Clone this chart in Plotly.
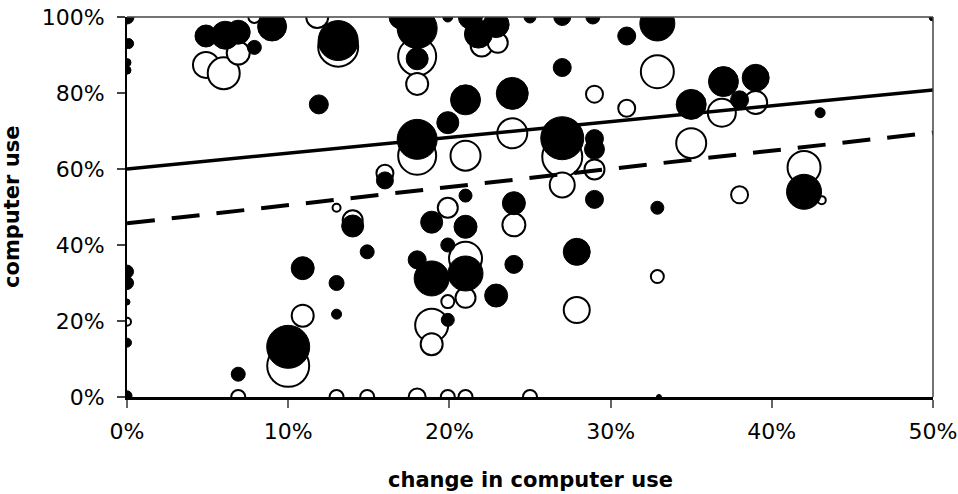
import plotly.graph_objects as go

# ---- data (percent units) ----
black_x = [0, 0.1, 0, 0, 4.9, 6.1, 6.9, 7.9, 9.0, 11.9, 13.1, 17.0, 18, 19.9, 18, 18, 21, 19.9, 23.9, 16,
           21, 24, 21.3, 21.8, 22.9, 25, 27, 28.9, 32.9, 31, 27, 35, 37, 27, 29, 29, 29, 32.9, 39, 38,
           43, 42, 50, 0, 0, 0, 0, 0, 10.9, 10, 6.9, 14, 14.9, 13, 13, 18.9, 21, 24, 19.9, 18,
           18.9, 21, 22.9, 19.9, 27.9, 33]
black_y = [100, 93, 88, 86, 95, 95.2, 96, 92, 97.5, 77, 93.8, 100, 97, 100, 89, 67.8, 78.2, 72.2, 79.9, 57,
           53, 51, 100, 95.5, 98, 100, 100, 100, 98.3, 95, 86.7, 77, 83, 68.1, 68, 65.2, 52, 49.8, 84, 78.2,
           74.8, 54, 100, 33, 30, 25, 14.3, 0.3, 33.9, 13.2, 6, 45, 38.2, 30, 21.8, 46, 44.8, 34.9, 40, 36.1,
           31.2, 32.5, 26.7, 20.3, 38.2, 0]
black_size = [14, 10, 8, 8, 22, 28, 24, 14, 29, 19, 40, 24, 40, 10, 22, 40, 30, 22, 32, 17,
              13, 23, 24, 28, 26, 12, 17, 14, 35, 18, 18, 30, 30, 43, 18, 20, 18, 13, 27, 18,
              10, 35, 8, 13, 13, 6, 9, 10, 23, 43, 14, 22, 14, 15, 10, 22, 23, 18, 14, 18,
              35, 35, 23, 13, 27, 5]

white_x = [4.9, 6.0, 6.9, 7.9, 11.8, 13.1, 18, 18, 18, 21, 23.9, 16, 19.9, 13, 22, 23, 32.9, 29, 31, 36.9,
           35, 27, 29, 27, 39, 42, 43.1, 38, 0, 10.9, 10, 6.9, 14, 24, 21, 21, 19.9, 18.9, 18.9, 13,
           14.9, 18, 19.9, 21, 25, 27.9, 32.9]
white_y = [87.4, 85.2, 90.5, 100, 100, 92.2, 89.6, 82.4, 63.5, 63.5, 69.4, 58.9, 49.8, 49.8, 92.5, 93.2, 85.6, 79.7, 76, 74.8,
           66.8, 63.2, 59.9, 55.8, 77.5, 60.4, 51.8, 53.2, 19.8, 21.4, 8.2, 0, 46.5, 45.3, 36.5, 26.1, 25.1, 18.9, 13.9, 0,
           0, 0, 0, 0, 0, 22.9, 31.7]
white_size = [26, 32, 23, 12, 22, 40, 38, 22, 38, 30, 30, 17, 20, 8, 22, 20, 33, 17, 17, 28,
              30, 40, 20, 25, 23, 33, 8, 17, 8, 22, 42, 14, 20, 23, 33, 20, 13, 33, 22, 14,
              14, 17, 14, 14, 14, 26, 13]

trend_x = [0, 50]
trend_solid_y = [60.0, 80.8]
trend_dash_y = [45.7, 69.6]

x_ticks = [0, 10, 20, 30, 40, 50]
x_tick_labels = ["0%", "10%", "20%", "30%", "40%", "50%"]
y_ticks = [0, 20, 40, 60, 80, 100]
y_tick_labels = ["0%", "20%", "40%", "60%", "80%", "100%"]

FONT = "DejaVu Sans"

fig = go.Figure()
fig.add_trace(go.Scatter(
    x=white_x, y=white_y, mode="markers",
    marker=dict(size=white_size, sizemode="diameter", color="white",
                line=dict(color="black", width=2), opacity=1),
    showlegend=False, hoverinfo="skip"))
fig.add_trace(go.Scatter(
    x=black_x, y=black_y, mode="markers",
    marker=dict(size=black_size, sizemode="diameter", color="black",
                line=dict(color="black", width=1), opacity=1),
    showlegend=False, hoverinfo="skip"))
fig.add_trace(go.Scatter(
    x=trend_x, y=trend_solid_y, mode="lines",
    line=dict(color="black", width=3.5), showlegend=False, hoverinfo="skip"))
fig.add_trace(go.Scatter(
    x=trend_x, y=trend_dash_y, mode="lines",
    line=dict(color="black", width=4, dash="28px,17px"), showlegend=False, hoverinfo="skip"))

fig.update_xaxes(range=[0, 50], tickmode="array", tickvals=x_ticks, ticktext=x_tick_labels,
                 automargin=False,
                 showgrid=False, zeroline=False, showline=True, linecolor="black", linewidth=2.5,
                 ticks="outside", ticklen=8, tickwidth=1.5, tickcolor="#666",
                 tickfont=dict(family=FONT, size=22, color="black"), ticklabelstandoff=5)
fig.update_yaxes(range=[0, 100], tickmode="array", tickvals=y_ticks, ticktext=y_tick_labels,
                 automargin=False,
                 showgrid=False, zeroline=False, showline=True, linecolor="black", linewidth=2,
                 ticks="outside", ticklen=8, tickwidth=1.5, tickcolor="#444",
                 tickfont=dict(family=FONT, size=22, color="black"), ticklabelstandoff=8)

# top and right frame lines
fig.add_shape(type="line", xref="paper", yref="paper", x0=0, x1=1, y0=1, y1=1,
              line=dict(color="#444", width=1.5))
fig.add_shape(type="line", xref="paper", yref="paper", x0=1, x1=1, y0=0, y1=1,
              line=dict(color="#444", width=1.5))

fig.add_annotation(text="<b>change in computer use</b>", xref="paper", yref="paper",
                   x=0.5, y=-0.218, xanchor="center", yanchor="middle", showarrow=False,
                   font=dict(family=FONT, size=21, color="black"))
fig.add_annotation(text="<b>computer use</b>", xref="paper", yref="paper",
                   x=-0.1427, y=0.5, xanchor="center", yanchor="middle", textangle=-90,
                   showarrow=False, font=dict(family=FONT, size=21, color="black"))

fig.update_layout(width=958, height=494, margin=dict(l=127, r=25, t=17, b=97, autoexpand=False),
                  paper_bgcolor="white", plot_bgcolor="white")

fig.write_html("out.html")
